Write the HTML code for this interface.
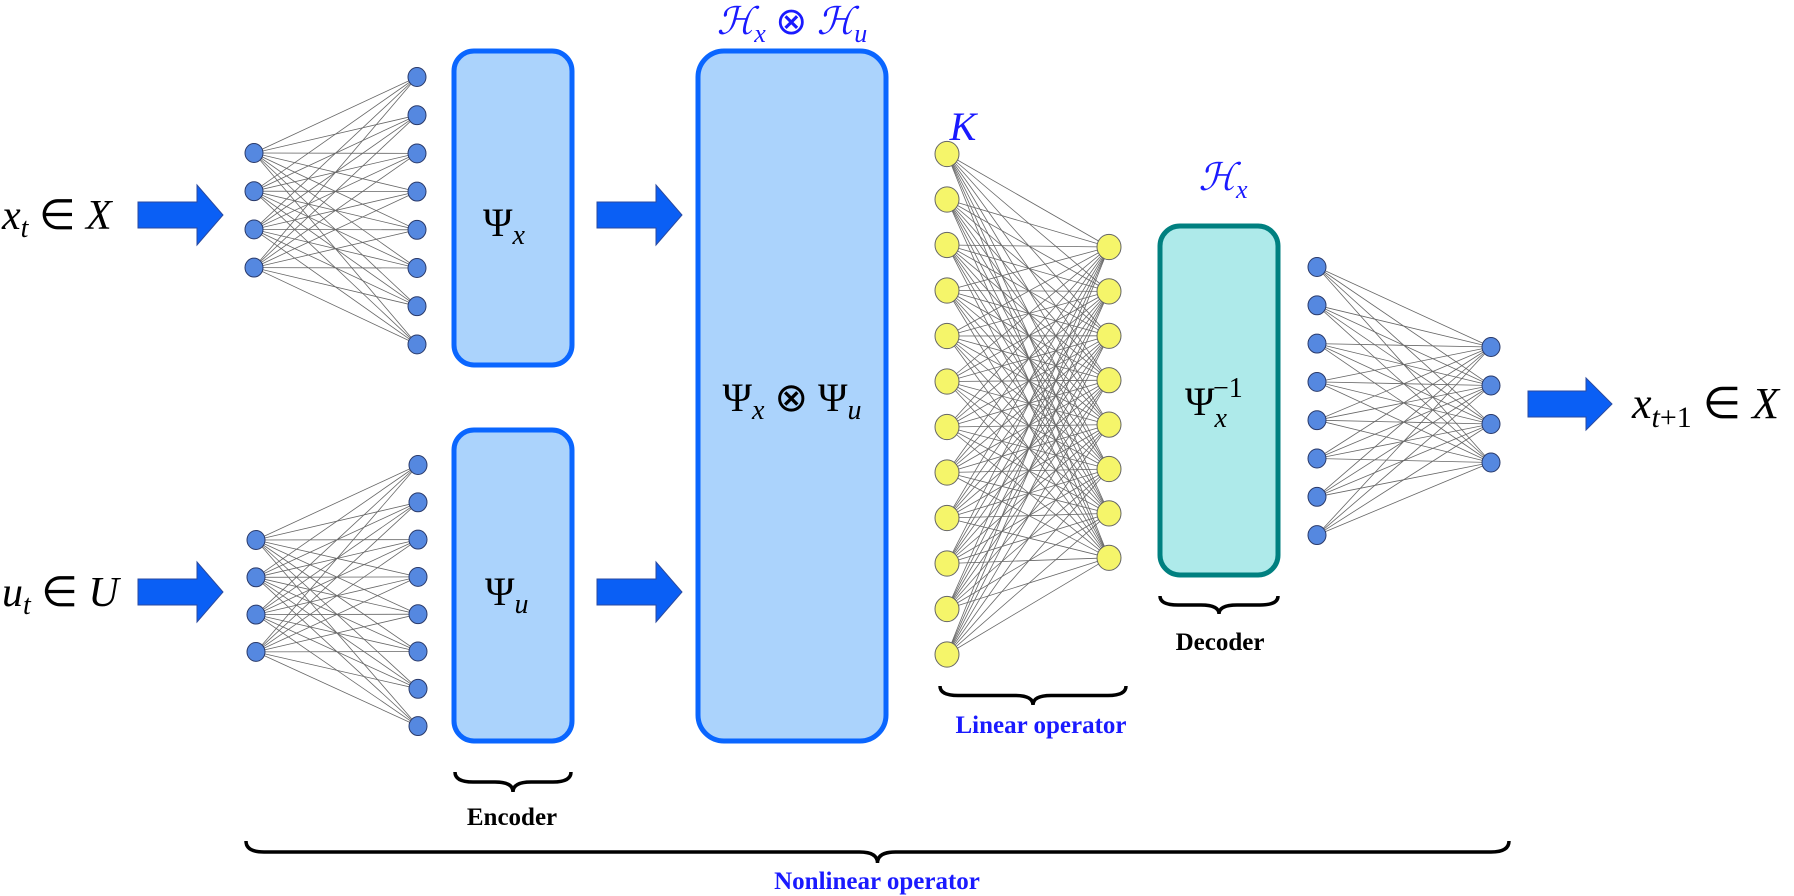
<!DOCTYPE html>
<html><head><meta charset="utf-8">
<style>
html,body{margin:0;padding:0;background:#fff;}
svg{display:block;}
.m{font-family:"Liberation Serif",serif;font-style:italic;}
.r{font-family:"Liberation Serif",serif;font-style:normal;}
.b{font-family:"Liberation Serif",serif;font-weight:bold;}
</style></head>
<body>
<svg id="s" width="1794" height="896" viewBox="0 0 1794 896" xmlns="http://www.w3.org/2000/svg">
<g id="edges" stroke="#666" stroke-width="0.8" fill="none"></g>
<rect x="454" y="51" width="118" height="314" rx="20" fill="#abd3fc" stroke="#0a66ff" stroke-width="5"/>
<rect x="454" y="430" width="118" height="311" rx="20" fill="#abd3fc" stroke="#0a66ff" stroke-width="5"/>
<rect x="698" y="51" width="188" height="690" rx="26" fill="#abd3fc" stroke="#0a66ff" stroke-width="5"/>
<rect x="1160" y="226" width="118" height="349" rx="20" fill="#aeeaea" stroke="#008080" stroke-width="5"/>
<g id="nodes"></g>
<g fill="#0a5ff5" stroke="#2a4aa0" stroke-width="1">
<path d="M138,202 H197 V185 L223,215 L197,245 V228 H138 Z"/>
<path d="M138,579 H197 V562 L223,592 L197,622 V605 H138 Z"/>
<path d="M597,202 H656 V185 L682,215 L656,245 V228 H597 Z"/>
<path d="M597,579 H656 V562 L682,592 L656,622 V605 H597 Z"/>
<path d="M1528,391 H1586 V378 L1612,404 L1586,430 V417 H1528 Z"/>
</g>
<g fill="none" stroke="#000" stroke-width="3.5" id="braces"></g>
<text x="2" y="229" font-size="42" class="m">x<tspan font-size="28" dy="8">t</tspan><tspan class="r" dy="-8"> ∈ </tspan>X</text>
<text x="2" y="606" font-size="42" class="m">u<tspan font-size="28" dy="8">t</tspan><tspan class="r" dy="-8"> ∈ </tspan>U</text>
<text x="1632" y="418" font-size="44" class="m">x<tspan font-size="30" dy="9">t</tspan><tspan class="r" font-size="30">+1</tspan><tspan class="r" dy="-9"> ∈ </tspan>X</text>
<text x="483" y="236" font-size="40" class="r">Ψ<tspan class="m" font-size="28" dy="8">x</tspan></text>
<text x="485" y="605" font-size="40" class="r">Ψ<tspan class="m" font-size="28" dy="8">u</tspan></text>
<text x="792" y="411" font-size="40" class="r" text-anchor="middle">Ψ<tspan class="m" font-size="28" dy="8">x</tspan><tspan dy="-8"> ⊗ Ψ</tspan><tspan class="m" font-size="28" dy="8">u</tspan></text>
<text x="1185" y="415" font-size="40" class="r">Ψ<tspan class="m" font-size="28" dy="12">x</tspan><tspan font-size="28" dx="-14" dy="-30">−1</tspan></text>
<text x="792" y="34" font-size="38" fill="#1a1aff" text-anchor="middle" class="m">ℋ<tspan font-size="26" dy="8">x</tspan><tspan class="r" dy="-8"> ⊗ </tspan>ℋ<tspan font-size="26" dy="8">u</tspan></text>
<text x="963" y="140" font-size="40" fill="#1a1aff" text-anchor="middle" class="m">K</text>
<text x="1223" y="190" font-size="38" fill="#1a1aff" text-anchor="middle" class="m">ℋ<tspan font-size="26" dy="8">x</tspan></text>
<text x="512" y="825" font-size="25" class="b" text-anchor="middle">Encoder</text>
<text x="1220" y="650" font-size="25" class="b" text-anchor="middle">Decoder</text>
<text x="1041" y="733" font-size="25" class="b" fill="#1a1aff" text-anchor="middle">Linear operator</text>
<text x="877" y="889" font-size="25" class="b" fill="#1a1aff" text-anchor="middle">Nonlinear operator</text>
</svg>
<script>
var NS="http://www.w3.org/2000/svg";
var E=document.getElementById("edges"),N=document.getElementById("nodes"),B=document.getElementById("braces");
function col(x,y0,dy,n){var a=[];for(var i=0;i<n;i++)a.push([x,y0+i*dy]);return a;}
function conn(A,Bb){A.forEach(function(p){Bb.forEach(function(q){var l=document.createElementNS(NS,"line");l.setAttribute("x1",p[0]);l.setAttribute("y1",p[1]);l.setAttribute("x2",q[0]);l.setAttribute("y2",q[1]);E.appendChild(l);});});}
function dots(A,r,f,s){A.forEach(function(p){var c=document.createElementNS(NS,"ellipse");c.setAttribute("cx",p[0]);c.setAttribute("cy",p[1]);c.setAttribute("rx",r);c.setAttribute("ry",r*1.05);c.setAttribute("fill",f);c.setAttribute("stroke",s);c.setAttribute("stroke-width","1");N.appendChild(c);});}
var t1=col(254,153,38.2,4),t2=col(417,77,38.2,8);
var b1=col(256,540,37.3,4),b2=col(418,465,37.3,8);
var y1=col(947,154,45.5,12),y2=col(1109,247,44.4,8);
var d1=col(1317,267,38.3,8),d2=col(1491,347,38.5,4);
conn(t1,t2);conn(b1,b2);conn(y1,y2);conn(d1,d2);
var blue="#5588e0",bs="#2a3a6a";
dots(t1,9,blue,bs);dots(t2,9,blue,bs);dots(b1,9,blue,bs);dots(b2,9,blue,bs);dots(d1,9,blue,bs);dots(d2,9,blue,bs);
dots(y1,12,"#f5f56a","#666");dots(y2,12,"#f5f56a","#666");
function brace(x1,x2,y,h){var m=(x1+x2)/2,q=Math.min(18,(x2-x1)/6),hh=h/2;
var d="M"+x1+","+y+" Q"+x1+","+(y+hh)+" "+(x1+q)+","+(y+hh)+" L"+(m-q)+","+(y+hh)+" Q"+m+","+(y+hh)+" "+m+","+(y+h)+" Q"+m+","+(y+hh)+" "+(m+q)+","+(y+hh)+" L"+(x2-q)+","+(y+hh)+" Q"+x2+","+(y+hh)+" "+x2+","+y;
var p=document.createElementNS(NS,"path");p.setAttribute("d",d);B.appendChild(p);}
brace(455,571,772,20);brace(940,1126,686,19);brace(1160,1278,596,18);brace(246,1509,841,22);
</script>
</body></html>
